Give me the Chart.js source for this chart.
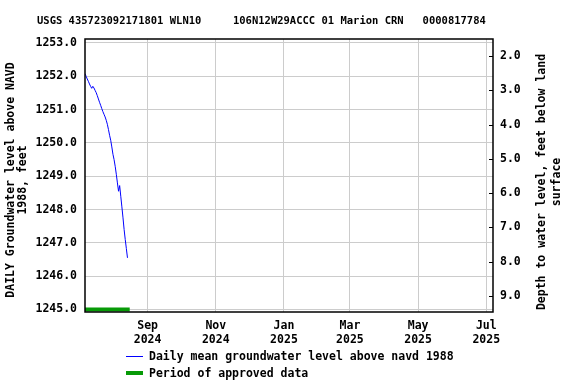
<!DOCTYPE html>
<html>
<head>
<meta charset="utf-8">
<script src="https://cdn.jsdelivr.net/npm/chart.js@4.4.1/dist/chart.umd.min.js"></script>
<style>
  html, body { margin: 0; padding: 0; background: #fff; }
  #wrap { position: relative; width: 576px; height: 384px; overflow: hidden; }
  #c { position: absolute; left: 0; top: 0; }
  .txt { position: absolute; font-family: 'DejaVu Sans Mono', monospace; font-weight: bold; color: #000; white-space: pre; }
  .rot { transform-origin: center center; transform: rotate(-90deg); text-align: center; }
  .swatch { position: absolute; }
</style>
</head>
<body>
<div id="wrap">
  <canvas id="c" width="576" height="384"></canvas>
  <div id="title" class="txt" style="left:37px; top:13px; font-size:10.5px; line-height:14px;"></div>
  <div id="ltitle" class="txt rot" style="left:-102px; top:166px; width:240px; height:28px; font-size:11.5px; line-height:12px;"></div>
  <div id="rtitle" class="txt rot" style="left:419px; top:167px; width:260px; height:30px; font-size:11.5px; line-height:15px;"></div>
  <div class="swatch" style="left:126px; top:355.5px; width:17px; height:1px; background:#0000ff;"></div>
  <div id="leg1" class="txt" style="left:149px; top:349px; font-size:11.5px; line-height:14px;"></div>
  <div class="swatch" style="left:126px; top:371px; width:17px; height:4px; background:#079a07;"></div>
  <div id="leg2" class="txt" style="left:149px; top:366px; font-size:11.5px; line-height:14px;"></div>
</div>
<script>
// ---- data (day numbers counted from 2024-07-01 = 0) ----
const titleText = "USGS 435723092171801 WLN10     106N12W29ACCC 01 Marion CRN   0000817784";
const leftAxisTitle = ["DAILY Groundwater level above NAVD", "1988, feet"];
const rightAxisTitle = ["Depth to water level, feet below land", "surface"];
const legendLabels = ["Daily mean groundwater level above navd 1988", "Period of approved data"];

const levelDays = [6,7,8,9,10,11,12,13,14,15,16,17,18,19,20,21,22,23,24,25,26,27,28,29,30,31,32,33,34,35,36,37,38,39,40,41,42,43,44];
const levelValues = [1252.08,1252.00,1251.92,1251.85,1251.77,1251.70,1251.64,1251.70,1251.65,1251.58,1251.51,1251.42,1251.32,1251.22,1251.13,1251.03,1250.94,1250.86,1250.78,1250.68,1250.56,1250.40,1250.23,1250.08,1249.88,1249.66,1249.50,1249.30,1249.06,1248.80,1248.55,1248.72,1248.40,1248.08,1247.75,1247.40,1247.10,1246.83,1246.55];

const approvedDays = [6, 46];
const approvedLevel = [1245, 1245];

const xTickDays = [62, 123, 184, 243, 304, 365];
const xTickLabels = [["Sep","2024"],["Nov","2024"],["Jan","2025"],["Mar","2025"],["May","2025"],["Jul","2025"]];
const leftTicks = [1245,1246,1247,1248,1249,1250,1251,1252,1253];
const rightTicks = [2,3,4,5,6,7,8,9];

document.getElementById('title').textContent = titleText;
document.getElementById('ltitle').textContent = leftAxisTitle.join("\n");
document.getElementById('rtitle').textContent = rightAxisTitle.join("\n");
document.getElementById('leg1').textContent = legendLabels[0];
document.getElementById('leg2').textContent = legendLabels[1];

const font = { family: "'DejaVu Sans Mono', monospace", size: 11.5, weight: 'bold' };

const framePlugin = {
  id: 'frame',
  afterDraw(chart) {
    const a = chart.chartArea, ctx = chart.ctx;
    ctx.save();
    ctx.strokeStyle = '#000';
    ctx.lineWidth = 1.5;
    ctx.strokeRect(a.left, a.top, a.right - a.left, a.bottom - a.top);
    const s = chart.scales.y2;
    ctx.lineWidth = 1;
    s.ticks.forEach(t => {
      const y = Math.round(s.getPixelForValue(t.value)) + 0.5;
      ctx.beginPath();
      ctx.moveTo(a.right - 4, y);
      ctx.lineTo(a.right, y);
      ctx.stroke();
    });
    ctx.restore();
  }
};

new Chart(document.getElementById('c'), {
  type: 'line',
  data: {
    datasets: [
      {
        label: legendLabels[0],
        data: levelDays.map((d, i) => ({ x: d, y: levelValues[i] })),
        borderColor: '#0000ff',
        borderWidth: 1,
        pointRadius: 0,
        tension: 0,
        yAxisID: 'y'
      },
      {
        label: legendLabels[1],
        data: approvedDays.map((d, i) => ({ x: d, y: approvedLevel[i] })),
        borderColor: '#079a07',
        borderWidth: 4,
        pointRadius: 0,
        clip: false,
        yAxisID: 'y'
      }
    ]
  },
  options: {
    responsive: false,
    animation: false,
    devicePixelRatio: 1,
    layout: { padding: { top: 39, left: 0, right: 0, bottom: 0 } },
    plugins: { legend: { display: false }, title: { display: false }, tooltip: { enabled: false } },
    scales: {
      x: {
        type: 'linear',
        min: 6, max: 371,
        afterBuildTicks: s => { s.ticks = xTickDays.map(v => ({ value: v })); },
        afterFit: s => { s.height = 72; },
        ticks: {
          font, color: '#000', padding: 7, maxRotation: 0, autoSkip: false,
          callback: (v) => { const i = xTickDays.indexOf(v); return i >= 0 ? xTickLabels[i] : ''; }
        },
        grid: { color: '#cccccc', lineWidth: 1, drawTicks: false },
        border: { display: false }
      },
      y: {
        type: 'linear',
        position: 'left',
        min: 1244.925, max: 1253.12,
        afterBuildTicks: s => { s.ticks = leftTicks.map(v => ({ value: v })); },
        afterFit: s => { s.width = 85; },
        ticks: { font, color: '#000', padding: 8, callback: v => v.toFixed(1) },
        grid: { color: '#cccccc', lineWidth: 1, drawTicks: false },
        border: { display: false },
        title: { display: false }
      },
      y2: {
        type: 'linear',
        position: 'right',
        reverse: true,
        min: 1.504, max: 9.467,
        afterBuildTicks: s => { s.ticks = rightTicks.map(v => ({ value: v })); },
        afterFit: s => { s.width = 83; },
        ticks: { font, color: '#000', padding: 7, callback: v => v.toFixed(1) },
        grid: { drawOnChartArea: false, drawTicks: false },
        border: { display: false },
        title: { display: false }
      }
    }
  },
  plugins: [framePlugin]
});
</script>
</body>
</html>
